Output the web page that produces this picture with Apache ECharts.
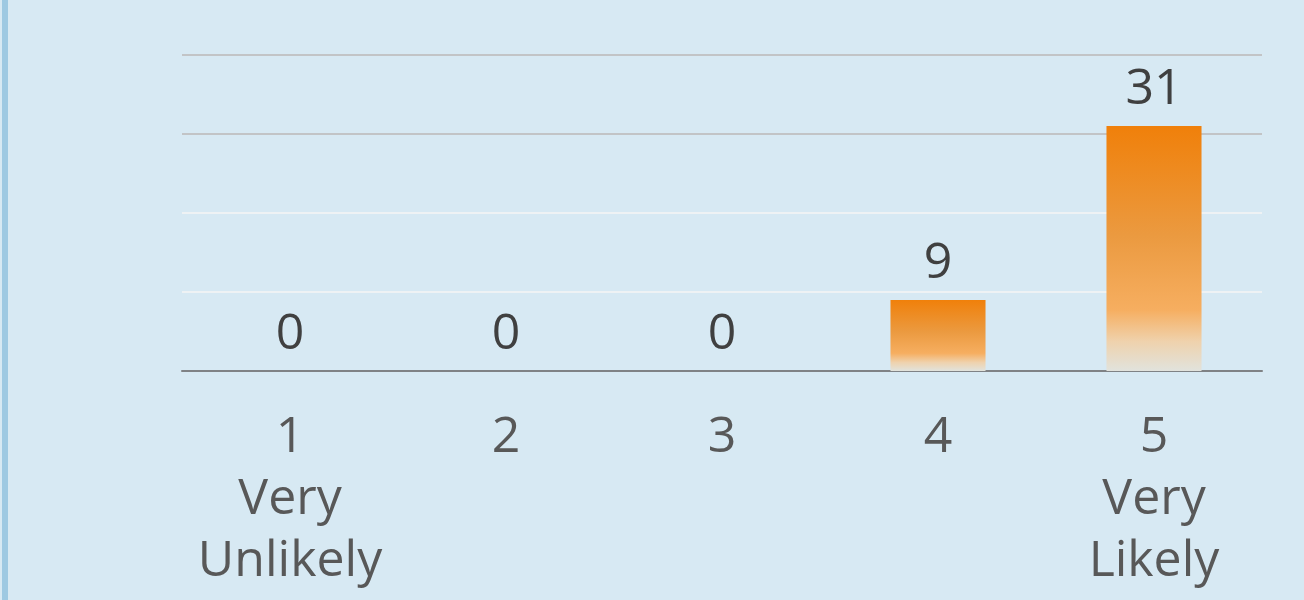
<!DOCTYPE html>
<html>
<head>
<meta charset="utf-8">
<script src="https://cdn.jsdelivr.net/npm/echarts@6/dist/echarts.min.js"></script>
<style>
  html, body { margin: 0; padding: 0; background: #d7e9f3; }
  #wrap { width: 1304px; height: 600px; position: relative; }
  #edge { position: absolute; left: 2px; top: 0; width: 6px; height: 600px; background: #9ec9e2; }
  #likelyChart { position: absolute; left: 0; top: 0; width: 1304px; height: 600px; }
</style>
</head>
<body>
<div id="wrap">
  <div id="edge"></div>
  <div id="likelyChart"></div>
</div>
<script>
  var categories = ['1\nVery\nUnlikely', '2', '3', '4', '5\nVery\nLikely'];
  var responses = [0, 0, 0, 9, 31];
  var axisMax = 40;
  var axisStep = 10;

  var barFill = new echarts.graphic.LinearGradient(0, 0, 0, 1, [
    {offset: 0, color: '#f0800a'},
    {offset: 0.45, color: '#eb9a40'},
    {offset: 0.75, color: '#f6ae60'},
    {offset: 0.88, color: '#efd2ad'},
    {offset: 1, color: '#e1e3dd'}
  ]);

  var myChart = echarts.init(document.getElementById('likelyChart'));
  myChart.setOption({
    animation: false,
    grid: {
      left: 182,
      right: 42,
      top: 55,
      bottom: 229,
      containLabel: false
    },
    xAxis: {
      type: 'category',
      data: categories,
      axisTick: {show: false},
      axisLine: {
        lineStyle: {color: '#7f8285', width: 2}
      },
      axisLabel: {
        interval: 0,
        margin: 36,
        fontFamily: 'Open Sans',
        fontSize: 50,
        lineHeight: 62,
        color: '#585858',
        align: 'center',
        verticalAlign: 'top'
      }
    },
    yAxis: {
      type: 'value',
      min: 0,
      max: axisMax,
      interval: axisStep,
      axisLabel: {show: false},
      axisLine: {show: false},
      axisTick: {show: false},
      splitLine: {
        lineStyle: {
          color: ['#eef2f4', '#eef2f4', '#eef2f4', '#c2c4c6', '#c2c4c6'],
          width: 2
        }
      }
    },
    series: [
      {
        name: 'Responses',
        type: 'bar',
        data: responses,
        barWidth: '44%',
        itemStyle: {color: barFill},
        label: {
          show: true,
          position: 'top',
          distance: 11,
          fontFamily: 'Open Sans',
          fontSize: 50,
          color: '#404040'
        }
      }
    ]
  });
</script>
</body>
</html>
